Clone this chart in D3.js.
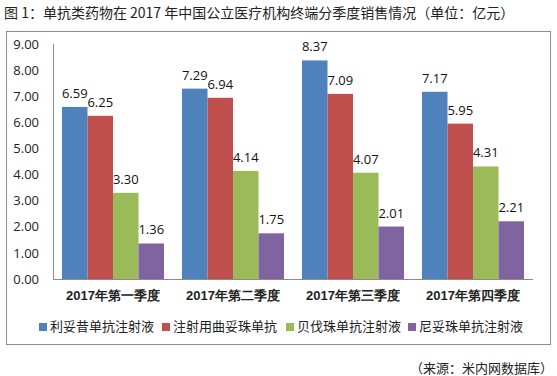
<!DOCTYPE html>
<html><head><meta charset="utf-8">
<script src="https://cdn.jsdelivr.net/npm/d3@7/dist/d3.min.js"></script>
<style>
body{margin:0;background:#fff;}
svg{display:block;font-family:"Noto Sans CJK SC","Noto Sans",sans-serif;}
</style></head><body>
<svg id="c" width="557" height="376"></svg>
<script>
const categories = ["2017年第一季度","2017年第二季度","2017年第三季度","2017年第四季度"];
const seriesNames = ["利妥昔单抗注射液","注射用曲妥珠单抗","贝伐珠单抗注射液","尼妥珠单抗注射液"];
const rituximab = [6.59, 7.29, 8.37, 7.17];
const trastuzumab = [6.25, 6.94, 7.09, 5.95];
const bevacizumab = [3.30, 4.14, 4.07, 4.31];
const nimotuzumab = [1.36, 1.75, 2.01, 2.21];
const yTicks = [0,1,2,3,4,5,6,7,8,9];
const colors = ["#4F81BD","#C0504D","#9BBB59","#8064A2"];
const title = "图 1：单抗类药物在 2017 年中国公立医疗机构终端分季度销售情况（单位：亿元）";
const source = "（来源：米内网数据库）";

const series = [rituximab, trastuzumab, bevacizumab, nimotuzumab];
const svg = d3.select("#c");

svg.append("text").attr("x",4).attr("y",18).attr("font-size",14).attr("fill","#222").text(title);

svg.append("rect").attr("x",6.5).attr("y",31.5).attr("width",544).attr("height",313)
  .attr("fill","#fff").attr("stroke","#8c8c8c").attr("stroke-width",1);

const x0 = d3.scaleBand().domain(categories).range([53,533]).paddingInner(0.15).paddingOuter(0.075);
const x1 = d3.scaleBand().domain(d3.range(4)).range([0,x0.bandwidth()]);
const y = d3.scaleLinear().domain([0,9]).range([279,44]);

const ya = svg.append("g").attr("transform","translate(53,0)")
  .call(d3.axisLeft(y).tickValues(yTicks).tickFormat(d3.format(".2f")).tickSize(0).tickPadding(14));
ya.select(".domain").attr("stroke","#8c8c8c").attr("d","M0.5,44V279.5");
ya.selectAll("text").attr("font-size",13).attr("fill","#222").attr("font-family","'Open Sans','DejaVu Sans',sans-serif");

const g = svg.append("g");
categories.forEach((c,ci)=>{
  series.forEach((s,si)=>{
    const v = s[ci];
    const bx = x0(c)+x1(si);
    g.append("rect").attr("x",bx).attr("y",y(v)).attr("width",x1.bandwidth()).attr("height",y(0)-y(v)).attr("fill",colors[si]);
    g.append("text").attr("x",bx+x1.bandwidth()/2).attr("y",y(v)-9).attr("text-anchor","middle")
      .attr("font-size",13).attr("fill","#111").attr("font-family","'Open Sans','DejaVu Sans',sans-serif").text(v.toFixed(2));
  });
});

const xa = svg.append("g").attr("transform","translate(0,279)")
  .call(d3.axisBottom(x0).tickSize(0).tickPadding(12));
xa.select(".domain").attr("stroke","#8c8c8c").attr("d","M53,0.5H533");
xa.selectAll("text").attr("font-size",13).attr("fill","#222").attr("font-weight","bold");

const legX = [39,162,286,408];
seriesNames.forEach((n,i)=>{
  svg.append("rect").attr("x",legX[i]).attr("y",323).attr("width",8).attr("height",8).attr("fill",colors[i]);
  svg.append("text").attr("x",legX[i]+11).attr("y",331).attr("font-size",13).attr("fill","#222").text(n);
});

svg.append("text").attr("x",553).attr("y",373).attr("text-anchor","end").attr("font-size",13).attr("fill","#222").text(source);
</script></body></html>
